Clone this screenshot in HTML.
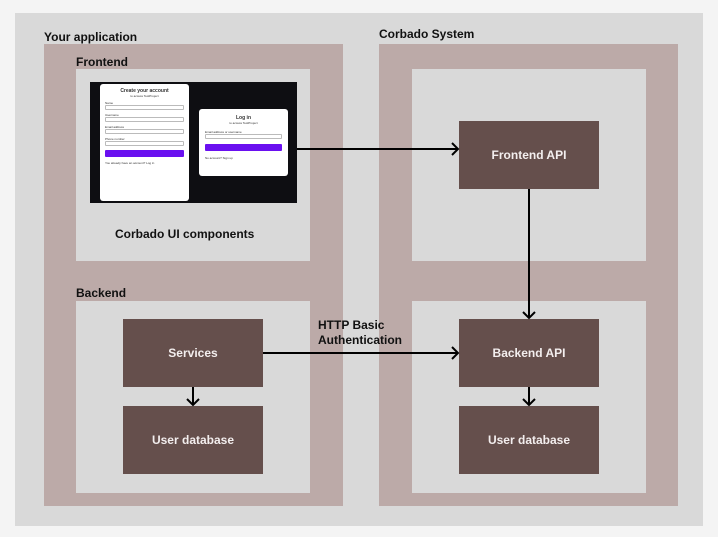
<!DOCTYPE html>
<html><head><meta charset="utf-8"><style>
body{margin:0;width:718px;height:537px;background:#f4f4f4;position:relative;overflow:hidden;font-family:"Liberation Sans",sans-serif}
div{position:absolute;box-sizing:border-box}
.g{background:#d9d9d9}.p{background:#bcaaa8}
.d{background:#654f4c;color:#f3eeee;font-weight:bold;font-size:12px;display:flex;align-items:center;justify-content:center}
.l{font-weight:bold;font-size:12px;color:#111;white-space:nowrap}
.c{background:#fff;border-radius:3px;font-size:3px;color:#333}
.in{height:5px;border:0.5px solid #bbb;border-radius:1px;background:#fff}
</style></head><body>
<div class="g" style="left:15px;top:13px;width:688px;height:513px"></div>
<div class="l" style="left:44px;top:30px">Your application</div>
<div class="l" style="left:379px;top:27px">Corbado System</div>
<div class="p" style="left:44px;top:44px;width:299px;height:462px"></div>
<div class="p" style="left:379px;top:44px;width:299px;height:462px"></div>
<div class="l" style="left:76px;top:55px">Frontend</div>
<div class="l" style="left:76px;top:286px">Backend</div>
<div class="g" style="left:76px;top:69px;width:234px;height:192px"></div>
<div class="g" style="left:76px;top:301px;width:234px;height:192px"></div>
<div class="g" style="left:412px;top:69px;width:234px;height:192px"></div>
<div class="g" style="left:412px;top:301px;width:234px;height:192px"></div>
<div style="left:90px;top:82px;width:207px;height:121px;background:#0e0e12"></div>
<div class="c" style="left:100px;top:84px;width:89px;height:117px;padding:4px 5px">
<div style="position:static;text-align:center;font-weight:bold;font-size:5px">Create your account</div>
<div style="position:static;text-align:center;margin-bottom:3px">to access TestProject</div>
<div style="position:static">Name</div><div class="in" style="position:static;margin-bottom:3px"></div>
<div style="position:static">Username</div><div class="in" style="position:static;margin-bottom:3px"></div>
<div style="position:static">Email address</div><div class="in" style="position:static;margin-bottom:3px"></div>
<div style="position:static">Phone number</div><div class="in" style="position:static;margin-bottom:4px"></div>
<div style="position:static;height:7px;background:#6a10f0;border-radius:1px;margin-bottom:4px"></div>
<div style="position:static">You already have an account? Log in</div>
</div>
<div class="c" style="left:199px;top:109px;width:89px;height:67px;padding:6px 6px">
<div style="position:static;text-align:center;font-weight:bold;font-size:5px">Log in</div>
<div style="position:static;text-align:center;margin-bottom:5px">to access TestProject</div>
<div style="position:static">Email address or username</div><div class="in" style="position:static;margin-bottom:5px"></div>
<div style="position:static;height:7px;background:#6a10f0;border-radius:1px;margin-bottom:5px"></div>
<div style="position:static">No account? Sign up</div>
</div>
<div class="l" style="left:115px;top:227px">Corbado UI components</div>
<div class="d" style="left:459px;top:121px;width:140px;height:68px">Frontend API</div>
<div class="d" style="left:123px;top:319px;width:140px;height:68px">Services</div>
<div class="d" style="left:123px;top:406px;width:140px;height:68px">User database</div>
<div class="d" style="left:459px;top:319px;width:140px;height:68px">Backend API</div>
<div class="d" style="left:459px;top:406px;width:140px;height:68px">User database</div>
<div class="l" style="left:318px;top:318px;line-height:15px">HTTP Basic<br>Authentication</div>
<svg style="position:absolute;left:0;top:0" width="718" height="537">
<g stroke="#000" stroke-width="2" fill="none">
<path d="M297 149H458M452 143l6 6-6 6"/>
<path d="M529 189V318M523 312l6 6 6-6"/>
<path d="M263 353H458M452 347l6 6-6 6"/>
<path d="M193 387V405M187 399l6 6 6-6"/>
<path d="M529 387V405M523 399l6 6 6-6"/>
</g></svg>
</body></html>
